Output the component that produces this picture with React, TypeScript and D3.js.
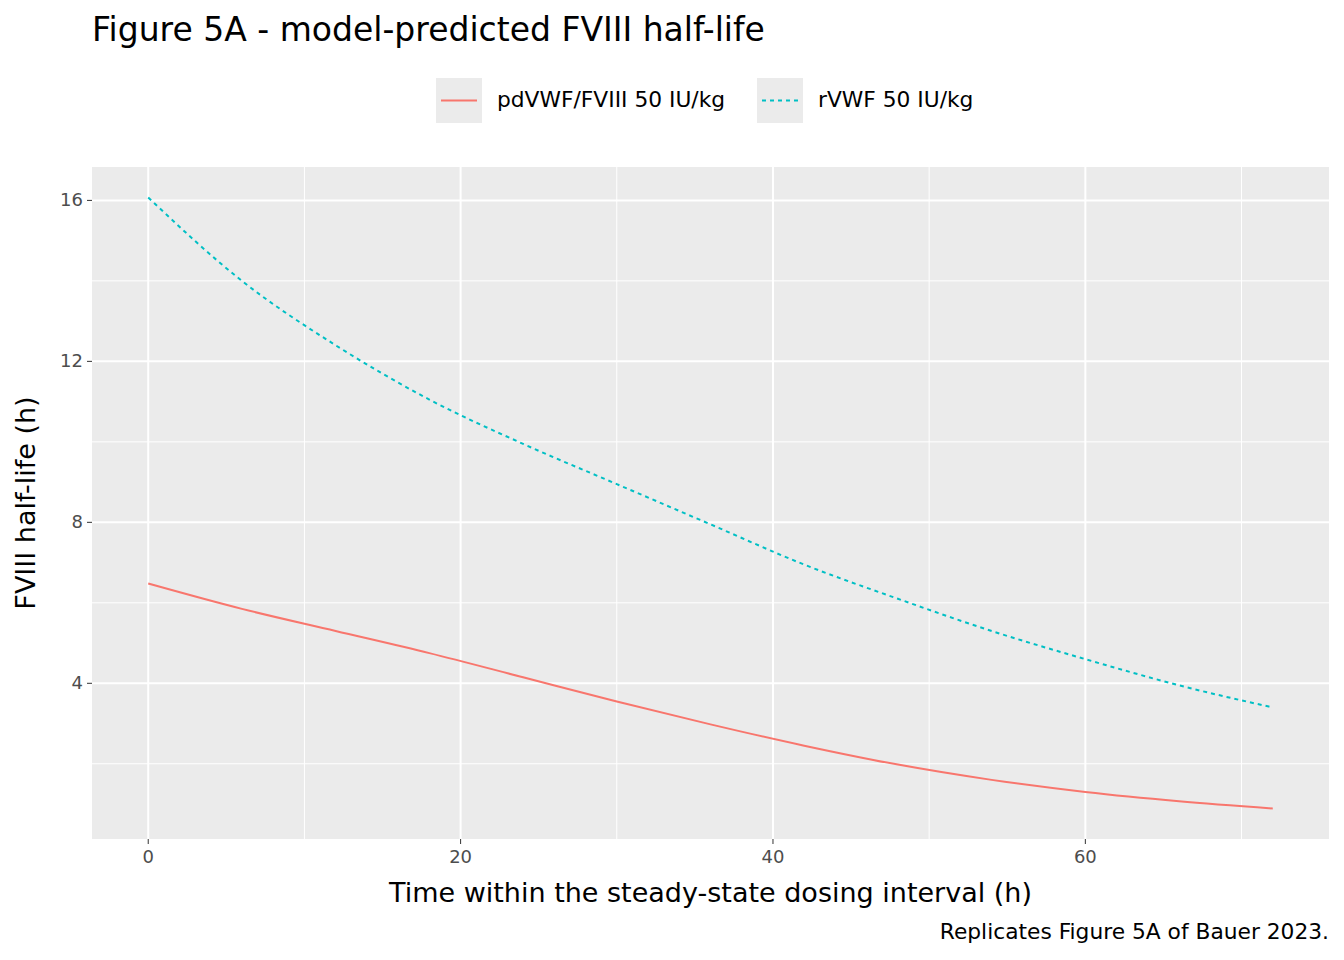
import * as React from 'react';
import * as d3 from 'd3';

const hours = [0, 6, 12, 18, 24, 30, 36, 42, 48, 54, 60, 66, 72];
const pdvwf = [6.48, 5.85, 5.3, 4.75, 4.15, 3.55, 2.98, 2.45, 1.98, 1.6, 1.3, 1.07, 0.89];
const rvwf = [16.07, 14.0, 12.4, 11.05, 9.95, 8.95, 7.95, 6.95, 6.1, 5.3, 4.6, 3.95, 3.4];
const xTicks = [0, 20, 40, 60];
const yTicks = [4, 8, 12, 16];
const seriesNames = ['pdVWF/FVIII 50 IU/kg', 'rVWF 50 IU/kg'];

const W = 1344, H = 960;
const L = 92, R = 1329, T = 167, B = 839;
const font = 'DejaVu Sans, sans-serif';
const k = 1.5;

export default function App() {
  const x = d3.scaleLinear().domain([-3.6, 75.6]).range([L, R]);
  const y = d3.scaleLinear().domain([0.131, 16.83]).range([B, T]);
  const line = d3.line<number>().x((_, i) => x(hours[i])).y(d => y(d)).curve(d3.curveMonotoneX);
  const minorX = [10, 30, 50, 70];
  const minorY = [2, 6, 10, 14];
  return (
    <svg width={W} height={H} style={{ position: 'absolute', left: 0, top: 0 }} fontFamily={font}>
      <rect width={W} height={H} fill="#fff" />
      <text x={92} y={41} fontSize={22 * k} fill="#000">Figure 5A - model-predicted FVIII half-life</text>
      {[0, 1].map(i => {
        const kx = i === 0 ? 436 : 757;
        return (
          <g key={i}>
            <rect x={kx} y={78} width={46} height={45} fill="#ebebeb" />
            <line x1={kx + 5} x2={kx + 41} y1={100.5} y2={100.5} stroke={i === 0 ? '#F8766D' : '#00BFC4'}
              strokeWidth={2} strokeDasharray={i === 0 ? undefined : '4,4'} />
            <text x={kx + 61} y={107} fontSize={14.5 * k} fill="#000">{seriesNames[i]}</text>
          </g>
        );
      })}
      <rect x={L} y={T} width={R - L} height={B - T} fill="#ebebeb" />
      {minorX.map(v => <line key={'mx' + v} x1={x(v)} x2={x(v)} y1={T} y2={B} stroke="#fff" strokeWidth={1} />)}
      {minorY.map(v => <line key={'my' + v} x1={L} x2={R} y1={y(v)} y2={y(v)} stroke="#fff" strokeWidth={1} />)}
      {xTicks.map(v => <line key={'x' + v} x1={x(v)} x2={x(v)} y1={T} y2={B} stroke="#fff" strokeWidth={2} />)}
      {yTicks.map(v => <line key={'y' + v} x1={L} x2={R} y1={y(v)} y2={y(v)} stroke="#fff" strokeWidth={2} />)}
      <path d={line(pdvwf) || ''} fill="none" stroke="#F8766D" strokeWidth={2} />
      <path d={line(rvwf) || ''} fill="none" stroke="#00BFC4" strokeWidth={2} strokeDasharray="4,4" />
      {xTicks.map(v => (
        <g key={'xt' + v}>
          <line x1={x(v)} x2={x(v)} y1={B} y2={B + 5} stroke="#333" strokeWidth={1} />
          <text x={x(v)} y={B + 24} fontSize={12 * k} fill="#4d4d4d" textAnchor="middle">{v}</text>
        </g>
      ))}
      {yTicks.map(v => (
        <g key={'yt' + v}>
          <line x1={L - 5} x2={L} y1={y(v)} y2={y(v)} stroke="#333" strokeWidth={1} />
          <text x={L - 9} y={y(v) + 6} fontSize={12 * k} fill="#4d4d4d" textAnchor="end">{v}</text>
        </g>
      ))}
      <text x={(L + R) / 2} y={902} fontSize={18 * k} fill="#000" textAnchor="middle">Time within the steady-state dosing interval (h)</text>
      <text transform={`translate(35,${(T + B) / 2}) rotate(-90)`} fontSize={18 * k} fill="#000" textAnchor="middle">FVIII half-life (h)</text>
      <text x={R} y={939} fontSize={14.5 * k} fill="#000" textAnchor="end">Replicates Figure 5A of Bauer 2023.</text>
    </svg>
  );
}
